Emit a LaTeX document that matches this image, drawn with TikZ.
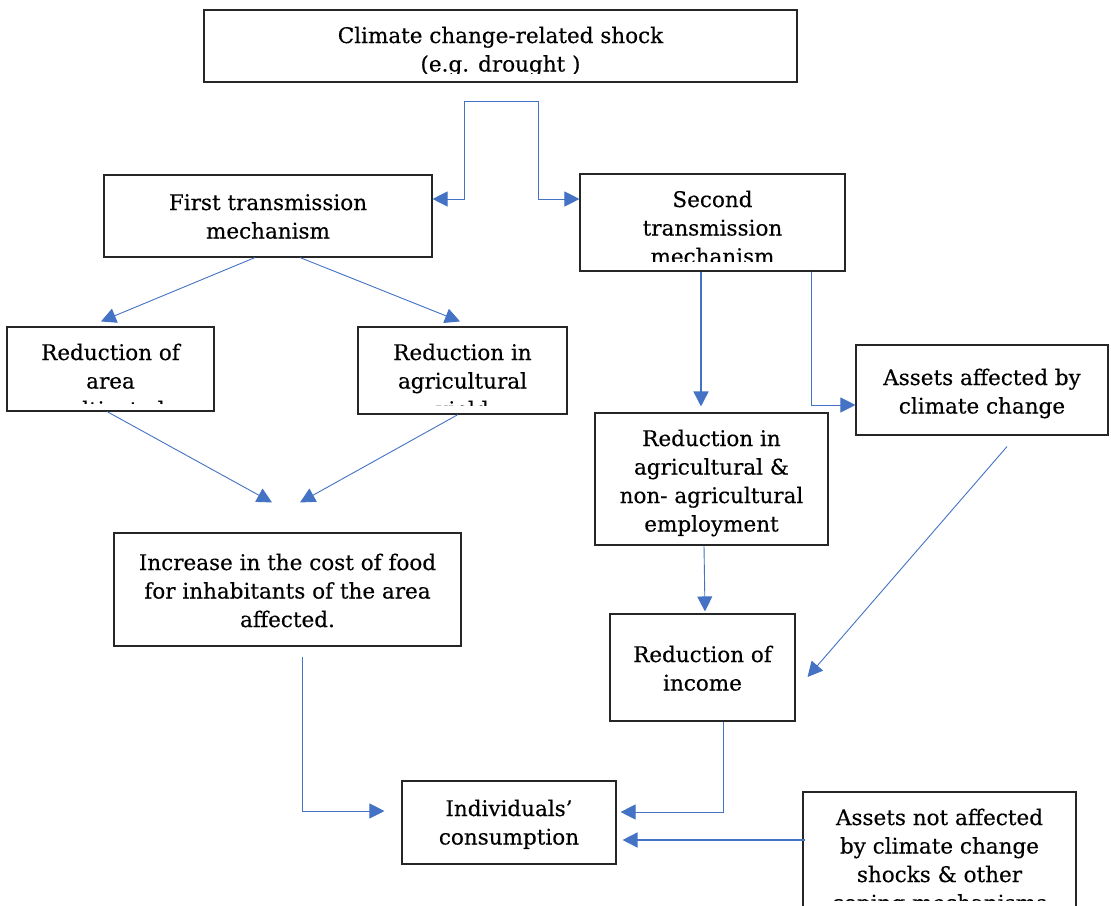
\documentclass[tikz,border=0pt]{standalone}
\usepackage{fontspec}
\setmainfont{DejaVu Serif}[FakeBold=0.35]
\usetikzlibrary{arrows.meta}
\definecolor{conblue}{HTML}{4472C4}
\definecolor{boxline}{HTML}{262626}
\newcommand\mlines[1]{\vtop{\let\\\cr\halign{\hfil##\hfil\cr#1\crcr}}}
\tikzset{
  box/.style={draw=boxline, line width=1.1pt, fill=none, inner sep=0pt},
  txt/.style={anchor=base, inner sep=0pt, font=\fontsize{21.5}{28.5}\selectfont},
  conn/.style={draw=conblue, line width=0.9pt, -{Triangle[length=15pt,width=15pt]}},
  thickconn/.style={conn, line width=1.7pt},
}
\begin{document}
\begin{tikzpicture}[x=1pt,y=-1pt]
\clip (0,0) rectangle (1111,905);
\fill[white] (0,0) rectangle (1111,905);

% boxes
\node[box, minimum width=593pt, minimum height=72pt] (top) at (500.5,46) {};
\node[box, minimum width=328pt, minimum height=82pt] (first) at (268,216) {};
\node[box, minimum width=265pt, minimum height=97pt] (second) at (712.5,222.5) {};
\node[box, minimum width=207pt, minimum height=84pt] (redarea) at (110.5,369) {};
\node[box, minimum width=209pt, minimum height=87pt] (redyield) at (462.5,370.5) {};
\node[box, minimum width=347pt, minimum height=113pt] (increase) at (287.5,589.5) {};
\node[box, minimum width=214pt, minimum height=83pt] (indiv) at (509,822.5) {};
\node[box, minimum width=252pt, minimum height=90pt] (assetsaff) at (982,390) {};
\node[box, minimum width=233pt, minimum height=132pt] (employ) at (711.5,479) {};
\node[box, minimum width=185pt, minimum height=107pt] (income) at (702.5,667.5) {};
\node[box, minimum width=273pt, minimum height=168pt] (notaff) at (939.5,876) {};

% texts
\begin{scope}
\clip (204,10) rectangle (797,73);
\node[txt] (ttop) at (500.5,43) {\mlines{Climate change-related shock\\(e.g. drought )}};
\end{scope}
\node[txt] (tfirst) at (268,210) {\mlines{First transmission\\mechanism}};
\begin{scope}
\clip (580,174) rectangle (845,261);
\node[txt] (tsecond) at (712.5,207) {\mlines{Second\\transmission\\mechanism}};
\end{scope}
\begin{scope}
\clip (7,327) rectangle (214,403);
\node[txt] (tredarea) at (110.5,360) {\mlines{Reduction of\\area\\cultivated}};
\end{scope}
\begin{scope}
\clip (358,327) rectangle (567,405);
\node[txt] (tredyield) at (462.5,360) {\mlines{Reduction in\\agricultural\\yield}};
\end{scope}
\node[txt] (tincrease) at (287.5,570) {\mlines{Increase in the cost of food\\for inhabitants of the area\\affected.}};
\node[txt] (tindiv) at (509,816) {\mlines{Individuals’\\consumption}};
\node[txt] (tassetsaff) at (982,385) {\mlines{Assets affected by\\climate change}};
\node[txt] (temploy) at (711.5,446) {\mlines{Reduction in\\agricultural \&\\non- agricultural\\employment}};
\node[txt] (tincome) at (702.5,662) {\mlines{Reduction of\\income}};
\begin{scope}
\clip (803,792) rectangle (1076,900);
\node[txt] (tnotaff) at (939.5,825) {\mlines{Assets not affected\\by climate change\\shocks \& other\\coping mechanisms}};
\end{scope}

% connectors
\coordinate (split) at (501,101);
\draw[conn] (split) -- ([xshift=-37pt]split) |- ([yshift=17pt]first.east);
\draw[conn] (split) -- ([xshift=37pt]split) |- ([yshift=23.5pt]second.west);
\draw[conn] ([xshift=-13pt]first.south) -- ([xshift=-9.5pt,yshift=5pt]redarea.north);
\draw[conn] ([xshift=32pt]first.south) -- ([xshift=-2.5pt,yshift=5pt]redyield.north);
\draw[conn] ([xshift=-3.5pt]redarea.south) -- ([xshift=-15.5pt,yshift=30pt]increase.north);
\draw[conn] ([xshift=-4.5pt]redyield.south) -- ([xshift=12.5pt,yshift=30pt]increase.north);
\draw[conn] ([xshift=14.5pt,yshift=-10pt]increase.south) |- ([xshift=-17pt,yshift=11.5pt]indiv.west);
\draw[thickconn] ([xshift=-11.5pt]second.south) -- ([xshift=-10.5pt,yshift=6pt]employ.north);
\draw[conn] ([xshift=98.5pt]second.south) |- ([yshift=-15pt]assetsaff.west);
\draw[conn] ([xshift=-7.5pt]employ.south) -- ([xshift=2.5pt,yshift=2pt]income.north);
\draw[conn] ([xshift=25pt,yshift=-11pt]assetsaff.south) -- ([xshift=12pt,yshift=-9.5pt]income.east);
\draw[conn] ([xshift=20.5pt]income.south) |- ([xshift=4pt,yshift=10.5pt]indiv.east);
\draw[thickconn] ([xshift=3pt,yshift=36pt]notaff.west) -- ([xshift=6pt,yshift=-17.5pt]indiv.east);
\end{tikzpicture}
\end{document}
